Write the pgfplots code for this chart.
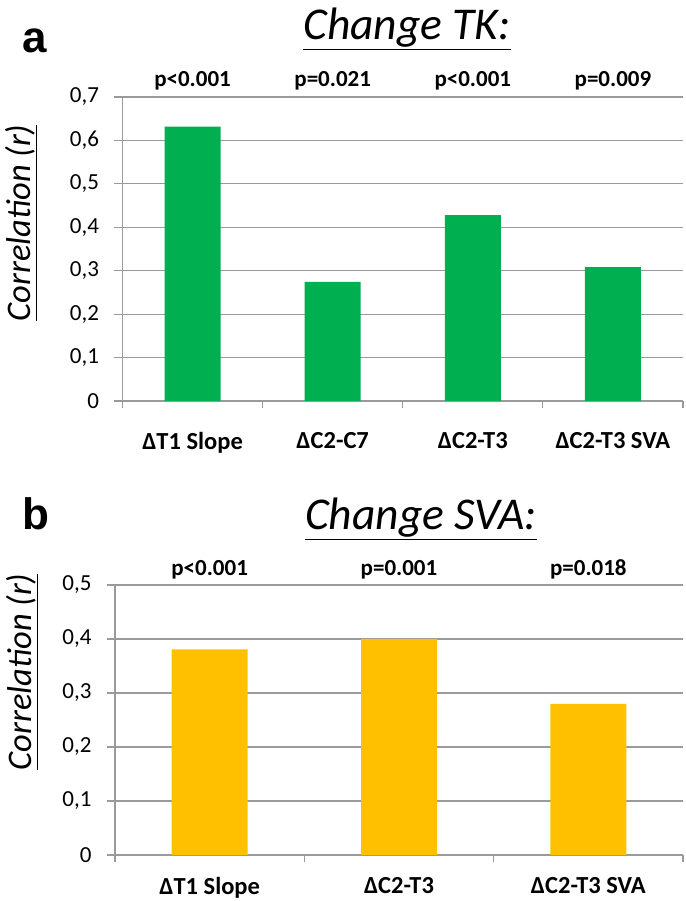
\documentclass[border=0pt]{standalone}
\usepackage{fontspec}
\setmainfont{Carlito}
\newfontfamily\arialfont{Liberation Sans}
\usepackage{pgfplots}
\pgfplotsset{compat=1.18}
\definecolor{bargreen}{HTML}{00B050}
\definecolor{baryellow}{HTML}{FFC000}
\definecolor{axgray}{HTML}{9A9A9A}
\pgfplotsset{
  mybar/.style={
    scale only axis,
    anchor=south west,
    axis lines*=left,
    axis line style={axgray, line width=1.2pt},
    ymajorgrids,
    grid style={axgray, line width=1.2pt},
    ymin=0,
    tick align=outside,
    major tick length=8pt,
    minor tick length=7pt,
    tick style={axgray, line width=1.2pt},
    major x tick style={draw=none},
    yticklabel style={font=\fontsize{23}{26}\selectfont, xshift=-12pt, /pgf/number format/.cd, fixed, precision=1, use comma, assume math mode=true},
    clip=false,
    ybar,
  }
}
\begin{document}
\begin{tikzpicture}
\path[use as bounding box] (0,0) rectangle (685pt,901pt);
% ---------- panel a ----------
\begin{axis}[mybar,
  at={(122.5pt,500pt)}, width=560.5pt, height=304pt,
  xmin=-0.5, xmax=3.5, ymax=0.7,
  ytick={0,0.1,0.2,0.3,0.4,0.5,0.6,0.7},
  xtick={0,1,2,3},
  xticklabels={ΔT1 Slope, ΔC2-C7, ΔC2-T3, ΔC2-T3 SVA},
  xticklabel style={font=\bfseries\fontsize{24.5}{28}\selectfont, yshift=-20pt},
  minor xtick={-0.5,0.5,1.5,2.5,3.5},
  bar width=56pt]
\addplot[fill=bargreen, draw=none] coordinates {(0,0.632) (1,0.274) (2,0.428) (3,0.308)};
\node[anchor=base, font=\bfseries\fontsize{23}{26}\selectfont, yshift=10pt] at (axis cs:0,0.7) {p<0.001};
\node[anchor=base, font=\bfseries\fontsize{23}{26}\selectfont, yshift=10pt] at (axis cs:1,0.7) {p=0.021};
\node[anchor=base, font=\bfseries\fontsize{23}{26}\selectfont, yshift=10pt] at (axis cs:2,0.7) {p<0.001};
\node[anchor=base, font=\bfseries\fontsize{23}{26}\selectfont, yshift=10pt] at (axis cs:3,0.7) {p=0.009};
\end{axis}
% ---------- panel b ----------
\begin{axis}[mybar,
  at={(115pt,46pt)}, width=568pt, height=270pt,
  xmin=-0.5, xmax=2.5, ymax=0.5,
  ytick={0,0.1,0.2,0.3,0.4,0.5},
  xtick={0,1,2},
  xticklabels={ΔT1 Slope, ΔC2-T3, ΔC2-T3 SVA},
  xticklabel style={font=\bfseries\fontsize{24.5}{28}\selectfont, yshift=-11pt},
  minor xtick={-0.5,0.5,1.5,2.5},
  bar width=76pt]
\addplot[fill=baryellow, draw=none] coordinates {(0,0.381) (1,0.400) (2,0.280)};
\node[anchor=base, font=\bfseries\fontsize{23}{26}\selectfont, yshift=9pt] at (axis cs:0,0.5) {p<0.001};
\node[anchor=base, font=\bfseries\fontsize{23}{26}\selectfont, yshift=9pt] at (axis cs:1,0.5) {p=0.001};
\node[anchor=base, font=\bfseries\fontsize{23}{26}\selectfont, yshift=9pt] at (axis cs:2,0.5) {p=0.018};
\end{axis}
% ---------- titles and labels ----------
\node[anchor=base west, inner sep=0pt, font=\arialfont\bfseries\fontsize{44}{50}\selectfont] at (22pt,848pt) {a};
\node[anchor=base west, inner sep=0pt, font=\arialfont\bfseries\fontsize{44}{50}\selectfont] at (22pt,371pt) {b};
\node[anchor=base, font=\itshape\fontsize{45.5}{52}\selectfont] at (407pt,861pt) {\underline{Change TK:}};
\node[anchor=base, font=\itshape\fontsize{45.5}{52}\selectfont] at (421pt,371pt) {\underline{Change SVA:}};
\node[rotate=90, font=\itshape\fontsize{34.5}{40}\selectfont] at (21pt,678pt) {\underline{Correlation (r)}};
\node[rotate=90, font=\itshape\fontsize{34.5}{40}\selectfont] at (22pt,229pt) {\underline{Correlation (r)}};
\end{tikzpicture}
\end{document}
